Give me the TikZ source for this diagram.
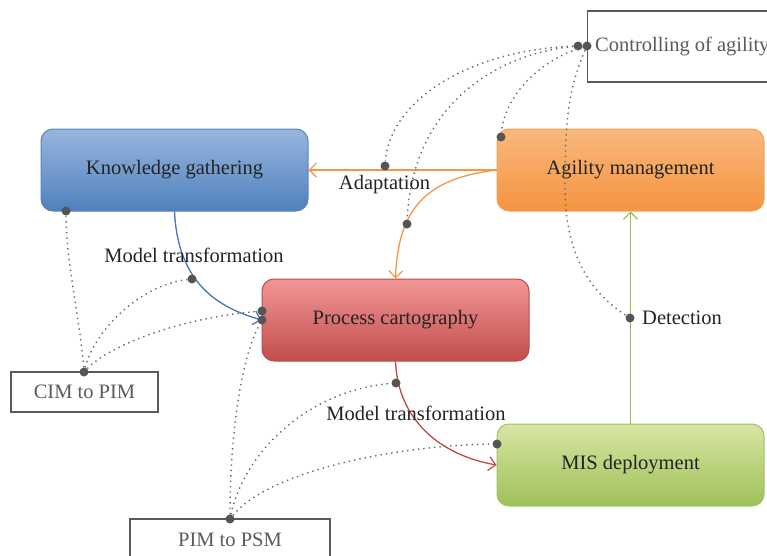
\documentclass[tikz,border=0pt]{standalone}
\usepackage{fontspec}
\setmainfont{Liberation Serif}
\usetikzlibrary{arrows.meta}
\definecolor{kgtop}{RGB}{152,182,222}
\definecolor{kgbot}{RGB}{79,129,189}
\definecolor{kgdraw}{RGB}{85,130,190}
\definecolor{amtop}{RGB}{249,184,124}
\definecolor{ambot}{RGB}{245,148,64}
\definecolor{amdraw}{RGB}{247,160,90}
\definecolor{pctop}{RGB}{241,150,150}
\definecolor{pcbot}{RGB}{194,78,75}
\definecolor{pcdraw}{RGB}{185,75,72}
\definecolor{mistop}{RGB}{216,229,164}
\definecolor{misbot}{RGB}{158,193,88}
\definecolor{misdraw}{RGB}{160,195,100}
\definecolor{orline}{RGB}{245,150,70}
\definecolor{blline}{RGB}{70,115,185}
\definecolor{rdline}{RGB}{190,75,72}
\definecolor{grline}{RGB}{145,190,80}
\definecolor{dotc}{RGB}{85,85,85}
\definecolor{dotl}{RGB}{105,105,105}
\definecolor{txt}{RGB}{35,35,35}
\definecolor{graytxt}{RGB}{90,90,90}
\begin{document}
\begin{tikzpicture}[x=1pt,y=-1pt,
  font=\fontsize{20.5}{24}\selectfont,
  procbox/.style={rounded corners=12pt, minimum width=267pt, minimum height=82pt, line width=1pt, text=txt, inner sep=0pt},
  annot/.style={draw=graytxt, line width=1.2pt, text=graytxt, inner sep=0pt},
  dotline/.style={draw=dotl, line width=1.4pt, dash pattern=on 1.4pt off 4pt},
  pin/.style={circle, fill=dotc, inner sep=0pt, minimum size=9pt},
  conn/.style={line width=1.3pt, -{Straight Barb[length=7pt,width=14pt,line width=1.2pt]}},
  lbl/.style={text=txt, inner sep=0pt}]
\useasboundingbox (0,0) rectangle (767,555);
\clip (0,0) rectangle (767,555);

% main boxes
\node[procbox, draw=kgdraw, top color=kgtop, bottom color=kgbot] (kg) at (174.5,170) {Knowledge gathering};
\node[procbox, draw=amdraw, top color=amtop, bottom color=ambot] (am) at (630.5,170) {Agility management};
\node[procbox, draw=pcdraw, top color=pctop, bottom color=pcbot] (pc) at (395.5,320) {Process cartography};
\node[procbox, draw=misdraw, top color=mistop, bottom color=misbot] (mis) at (630.5,465) {MIS deployment};

% annotation boxes
\node[annot, anchor=west, minimum width=213pt, minimum height=71pt,
  label={[anchor=west, xshift=8pt, text=graytxt, inner sep=0pt]west:Controlling of agility}] (ctrl) at (587,46.5) {};
\node[annot, minimum width=147pt, minimum height=40pt] (cim) at (84.5,392) {CIM to PIM};
\node[annot, minimum width=200pt, minimum height=42pt] (psm) at (230,540) {PIM to PSM};

% connectors
\draw[conn, draw=orline] (am.west) -- (kg.east);
\draw[conn, draw=orline] (am.west) .. controls (430,178) and (398,205) .. (pc.north);
\draw[conn, draw=blline] (kg.south) .. controls (178,285) and (220,308) .. (pc.west);
\draw[conn, draw=rdline] (pc.south) .. controls (398,420) and (440,455) .. (mis.west);
\draw[conn, draw=grline] (mis.north) -- (am.south);

% pins
\node[pin] (c1) at (578,46) {};
\node[pin] (c2) at (587,46) {};
\node[pin] (pad) at (385,166) {};
\node[pin] (por) at (407,224) {};
\node[pin] (pam) at (501,137) {};
\node[pin] (pdet) at (630,318) {};
\node[pin] (pcim) at (84,372) {};
\node[pin] (pkg) at (66,211) {};
\node[pin] (pbl) at (192,279) {};
\node[pin] (ppc1) at (262,311) {};
\node[pin] (ppc2) at (262,320) {};
\node[pin] (ppsm) at (230,519) {};
\node[pin] (prd) at (396,383) {};
\node[pin] (pmis) at (497,444) {};

% dotted links
\draw[dotline] (c1) .. controls (470,50) and (390,100) .. (pad);
\draw[dotline] (c1) .. controls (490,55) and (412,110) .. (por);
\draw[dotline] (c2) .. controls (540,60) and (505,95) .. (pam);
\draw[dotline] (c2) .. controls (568,90) and (565,120) .. (565,190) .. controls (566,262) and (595,295) .. (pdet);
\draw[dotline] (pcim) .. controls (80,320) and (66,260) .. (pkg);
\draw[dotline] (pcim) .. controls (95,330) and (140,285) .. (pbl);
\draw[dotline] (pcim) .. controls (110,345) and (180,318) .. (ppc1);
\draw[dotline] (ppsm) .. controls (230,440) and (240,360) .. (ppc2);
\draw[dotline] (ppsm) .. controls (245,450) and (310,390) .. (prd);
\draw[dotline] (ppsm) .. controls (270,470) and (400,445) .. (pmis);

% labels
\node[lbl] (ladapt) at (384.5,185) {Adaptation};
\node[lbl] (lmt1) at (194,255) {Model transformation};
\node[lbl] (lmt2) at (416,413) {Model transformation};
\node[lbl, anchor=west] (ldet) at (642,318) {Detection};
\end{tikzpicture}
\end{document}
